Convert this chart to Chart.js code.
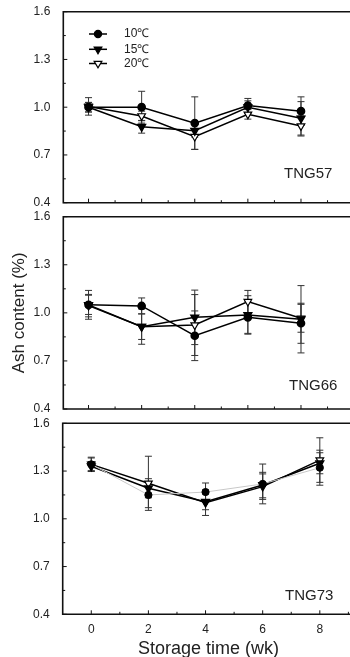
<!DOCTYPE html>
<html>
<head>
<meta charset="utf-8">
<script src="https://cdn.jsdelivr.net/npm/chart.js@4.4.1/dist/chart.umd.min.js"></script>
<style>
  html, body { margin: 0; padding: 0; background: #fff; overflow: hidden; width: 350px; height: 657px; }
  .panel { position: absolute; left: 0; }
</style>
</head>
<body>
<div class="panel" style="top:0"><canvas id="c57" width="360" height="212"></canvas></div>
<div class="panel" style="top:205px"><canvas id="c66" width="360" height="212"></canvas></div>
<div class="panel" style="top:412px"><canvas id="c73" width="360" height="253"></canvas></div>
<script>
/* ---------- DATA ---------- */
const weeks = [0, 2, 4, 6, 8];
const seriesNames = ["10\u2103", "15\u2103", "20\u2103"];
const yTicks = [0.4, 0.7, 1.0, 1.3, 1.6];
const yMinor = [0.55, 0.85, 1.15, 1.45];
const xTicks = [0, 2, 4, 6, 8];
const xMinor = [1, 3, 5, 7, 9];

// TNG57
const tng57_10 = [1.00, 1.00, 0.90, 1.01, 0.975];
const tng57_15 = [1.00, 0.877, 0.852, 1.00, 0.93];
const tng57_20 = [1.005, 0.945, 0.815, 0.955, 0.882];
const tng57_10err = [0.03, 0.10, 0.165, 0.045, 0.09];
const tng57_15err = [0.03, 0.04, 0.04, 0.04, 0.105];
const tng57_20err = [0.055, 0.03, 0.08, 0.03, 0.063];

// TNG66
const tng66_10 = [1.05, 1.043, 0.857, 0.972, 0.935];
const tng66_15 = [1.05, 0.914, 0.972, 0.987, 0.96];
const tng66_20 = [1.045, 0.914, 0.924, 1.07, 0.966];
const tng66_10err = [0.09, 0.05, 0.155, 0.10, 0.125];
const tng66_15err = [0.06, 0.08, 0.17, 0.12, 0.21];
const tng66_20err = [0.07, 0.11, 0.19, 0.07, 0.087];

// TNG73
const tng73_10 = [1.342, 1.15, 1.168, 1.219, 1.321];
const tng73_15 = [1.33, 1.192, 1.107, 1.212, 1.349];
const tng73_20 = [1.342, 1.223, 1.101, 1.202, 1.369];
const tng73_10err = [0.04, 0.08, 0.057, 0.125, 0.11];
const tng73_15err = [0.03, 0.06, 0.05, 0.08, 0.066];
const tng73_20err = [0.045, 0.17, 0.08, 0.08, 0.14];

const FONT = "'Liberation Sans', Arial, sans-serif";
Chart.defaults.font.family = FONT;
Chart.defaults.color = "#222";

/* ---------- PLUGINS ---------- */
// error bars, drawn under the lines/markers
const errorBars = {
  id: "errorBars",
  beforeDatasetsDraw(chart) {
    const ctx = chart.ctx;
    const xs = chart.scales.x, ys = chart.scales.y;
    ctx.save();
    ctx.strokeStyle = "#333";
    ctx.lineWidth = 1;
    chart.data.datasets.forEach(ds => {
      ds.data.forEach((p, i) => {
        const e = ds.err[i];
        const x = xs.getPixelForValue(p.x);
        const y1 = ys.getPixelForValue(p.y + e);
        const y2 = ys.getPixelForValue(p.y - e);
        ctx.beginPath();
        ctx.moveTo(x, y1); ctx.lineTo(x, y2);
        ctx.moveTo(x - 3.5, y1); ctx.lineTo(x + 3.5, y1);
        ctx.moveTo(x - 3.5, y2); ctx.lineTo(x + 3.5, y2);
        ctx.stroke();
      });
    });
    ctx.restore();
  }
};

// frame (top, left, bottom) with inward ticks
const frame = {
  id: "frame",
  afterDraw(chart) {
    const ctx = chart.ctx;
    const a = chart.chartArea;
    const xs = chart.scales.x, ys = chart.scales.y;
    ctx.save();
    ctx.strokeStyle = "#111";
    ctx.lineWidth = 1.6;
    ctx.beginPath();
    ctx.moveTo(a.right + 5, a.top);
    ctx.lineTo(a.left, a.top);
    ctx.lineTo(a.left, a.bottom);
    ctx.lineTo(a.right + 5, a.bottom);
    ctx.stroke();
    ctx.lineWidth = 1;
    ctx.beginPath();
    xTicks.forEach(v => { const x = xs.getPixelForValue(v); ctx.moveTo(x, a.bottom); ctx.lineTo(x, a.bottom - 4); });
    xMinor.forEach(v => { const x = xs.getPixelForValue(v); ctx.moveTo(x, a.bottom); ctx.lineTo(x, a.bottom - 2.5); });
    yTicks.forEach(v => { const y = ys.getPixelForValue(v); ctx.moveTo(a.left, y); ctx.lineTo(a.left + 4, y); });
    yMinor.forEach(v => { const y = ys.getPixelForValue(v); ctx.moveTo(a.left, y); ctx.lineTo(a.left + 2.5, y); });
    ctx.stroke();
    ctx.restore();
  }
};

// panel name + optional legend
const panelText = {
  id: "panelText",
  afterDraw(chart) {
    const o = chart.options.plugins.panelText;
    const ctx = chart.ctx;
    const xs = chart.scales.x, ys = chart.scales.y;
    ctx.save();
    ctx.fillStyle = "#222";
    ctx.font = "15px " + FONT;
    ctx.textAlign = "center";
    ctx.textBaseline = "middle";
    ctx.fillText(o.name, xs.getPixelForValue(o.nx), ys.getPixelForValue(o.ny));
    if (o.legend) {
      const rows = [34, 49.3, 63.5];
      chart.data.datasets.forEach((ds, i) => {
        const y = rows[i];
        const r = ds.pointRadius;
        ctx.strokeStyle = "#000";
        ctx.lineWidth = 1.5;
        ctx.beginPath(); ctx.moveTo(89, y); ctx.lineTo(107, y); ctx.stroke();
        ctx.fillStyle = ds.pointBackgroundColor;
        ctx.lineWidth = 1.2;
        ctx.beginPath();
        if (ds.pointStyle === "circle") {
          ctx.arc(98, y, r, 0, Math.PI * 2);
        } else {
          ctx.moveTo(98 - r * 0.87, y - r * 0.5); ctx.lineTo(98 + r * 0.87, y - r * 0.5); ctx.lineTo(98, y + r); ctx.closePath();
        }
        ctx.fill(); ctx.stroke();
        ctx.fillStyle = "#222";
        ctx.font = "12px " + FONT;
        ctx.textAlign = "left";
        ctx.fillText(ds.label, 124, y);
      });
    }
    ctx.restore();
  }
};

/* ---------- BUILD ---------- */
function makeSets(v10, v15, v20, e10, e15, e20, faint10) {
  const pts = arr => weeks.map((w, i) => ({ x: w, y: arr[i] }));
  return [
    { label: seriesNames[0], data: pts(v10), err: e10, borderColor: faint10 ? "#c8c8c8" : "#000", borderWidth: faint10 ? 1 : 1.5,
      pointStyle: "circle", pointRadius: 3.6, pointBackgroundColor: "#000", pointBorderColor: "#000", pointRotation: 0 },
    { label: seriesNames[1], data: pts(v15), err: e15, borderColor: "#000", borderWidth: 1.5,
      pointStyle: "triangle", pointRadius: 4.4, pointRotation: 180, pointBackgroundColor: "#000", pointBorderColor: "#000" },
    { label: seriesNames[2], data: pts(v20), err: e20, borderColor: "#000", borderWidth: 1.5,
      pointStyle: "triangle", pointRadius: 4.4, pointRotation: 180, pointBackgroundColor: "#fff", pointBorderColor: "#000", pointBorderWidth: 1.2 }
  ];
}

function makeChart(id, sets, opt) {
  const cv = document.getElementById(id);
  const a = opt.area;
  const xh = opt.xLabels ? 50.7 : 0;
  return new Chart(cv, {
    type: "line",
    data: { datasets: sets },
    options: {
      responsive: false,
      animation: false,
      layout: { padding: { left: 0, top: a.top, right: cv.width - a.right, bottom: cv.height - a.bottom - xh } },
      plugins: {
        legend: { display: false },
        tooltip: { enabled: false },
        panelText: { name: opt.name, nx: opt.nx, ny: opt.ny, legend: opt.legend }
      },
      scales: {
        x: {
          type: "linear",
          min: opt.xmin, max: opt.xmax,
          grid: { display: false, drawTicks: false },
          border: { display: false },
          afterBuildTicks: s => { s.ticks = xTicks.map(v => ({ value: v })); },
          afterFit: s => { s.height = xh; s.paddingLeft = 0; s.paddingRight = 0; },
          ticks: { display: opt.xLabels, padding: 8, font: { size: 12 }, color: "#222" },
          title: { display: opt.xLabels, text: "Storage time (wk)", font: { size: 18 }, color: "#222", padding: { top: 0, bottom: 5 } }
        },
        y: {
          min: 0.4, max: 1.6,
          grid: { display: false, drawTicks: false },
          border: { display: false },
          afterBuildTicks: s => { s.ticks = yTicks.map(v => ({ value: v })); },
          afterFit: s => { s.width = a.left; s.paddingTop = 0; s.paddingBottom = 0; },
          ticks: { padding: 13, font: { size: 12 }, color: "#222", callback: v => v.toFixed(1) },
          title: { display: !!opt.yTitle, text: "Ash content (%)", font: { size: 17 }, color: "#222", padding: { top: 9, bottom: 0 } }
        }
      }
    },
    plugins: [errorBars, frame, panelText]
  });
}

makeChart("c57",
  makeSets(tng57_10, tng57_15, tng57_20, tng57_10err, tng57_15err, tng57_20err, false),
  { name: "TNG57", nx: 8.27, ny: 0.579, legend: true, xmin: -0.95, xmax: 10, xLabels: false,
    area: { top: 11.7, bottom: 202.7, left: 63.3, right: 355.4 } });

makeChart("c66",
  makeSets(tng66_10, tng66_15, tng66_20, tng66_10err, tng66_15err, tng66_20err, false),
  { name: "TNG66", nx: 8.46, ny: 0.545, legend: false, xmin: -0.95, xmax: 10, xLabels: false, yTitle: true,
    area: { top: 11.7, bottom: 204, left: 63.3, right: 355.4 } });

makeChart("c73",
  makeSets(tng73_10, tng73_15, tng73_20, tng73_10err, tng73_15err, tng73_20err, true),
  { name: "TNG73", nx: 7.63, ny: 0.516, legend: false, xmin: -1, xmax: 9.2, xLabels: true,
    area: { top: 11.3, bottom: 202.3, left: 62.7, right: 357.4 } });
</script>
</body>
</html>
